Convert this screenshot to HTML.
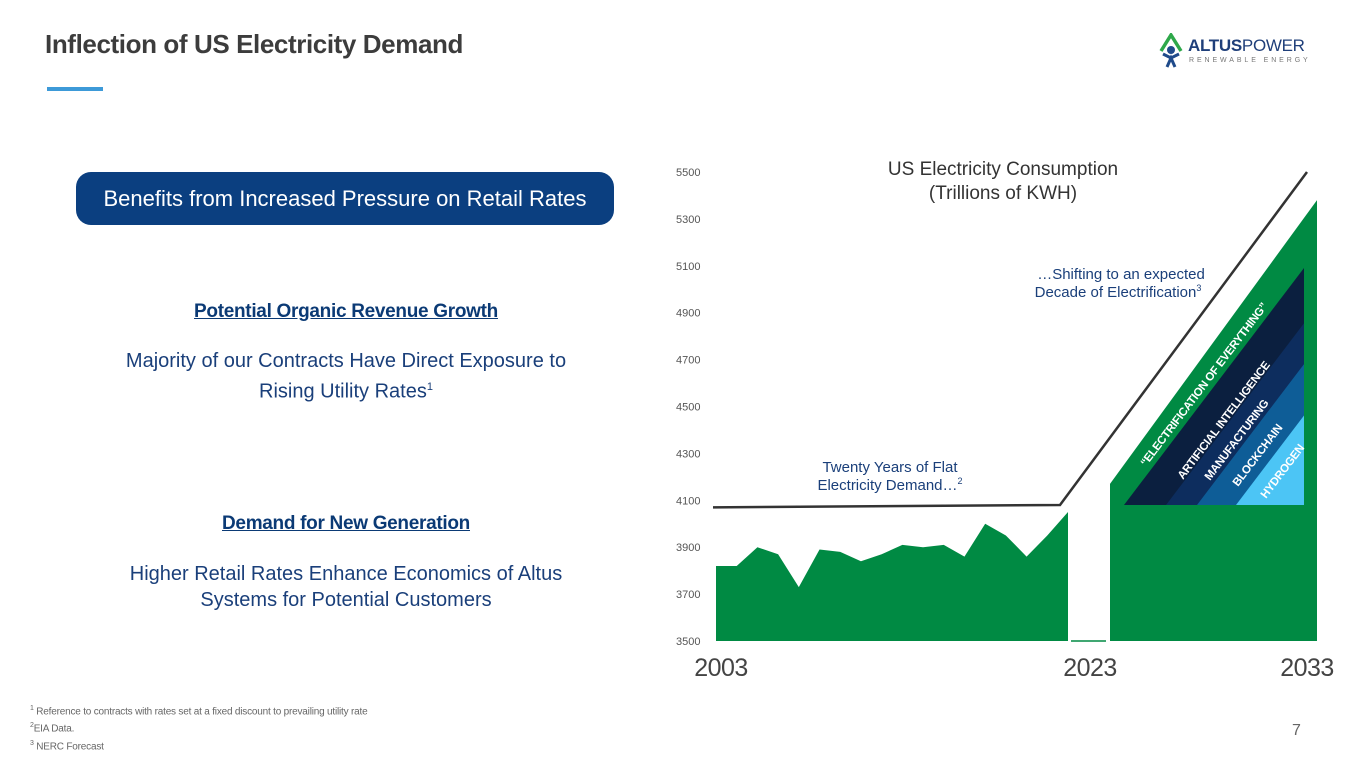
<!DOCTYPE html>
<html><head><meta charset="utf-8"><style>
body{margin:0;width:1365px;height:768px;overflow:hidden;background:#fff;font-family:"Liberation Sans",sans-serif;position:relative}
.abs{position:absolute}
.c{text-align:center}
</style></head><body>
<div class="abs" style="left:45px;top:29px;font-size:26px;font-weight:bold;color:#3c3c3c;letter-spacing:-0.4px">Inflection of US Electricity Demand</div>
<div class="abs" style="left:47px;top:87px;width:56px;height:4px;background:#3d9ad8"></div>
<div class="abs" style="left:1158px;top:33px;width:160px;height:36px">
 <svg width="30" height="36" style="position:absolute;left:0;top:0"><path d="M3 18 L13 2 L23 18" stroke="#2ea84a" stroke-width="3.5" fill="none"/><circle cx="13" cy="17" r="4" fill="#1f4a8a"/><path d="M5 21 L13 25 L21 21 M9 34 L13 25 L17 34" stroke="#1f4a8a" stroke-width="3" fill="none"/></svg>
 <div class="abs" style="left:30px;top:3px;font-size:17px;color:#1f3f7a;letter-spacing:-0.3px;white-space:nowrap"><b>ALTUS</b>POWER</div>
 <div class="abs" style="left:31px;top:24px;font-size:7px;color:#777;letter-spacing:2.9px;white-space:nowrap">RENEWABLE ENERGY</div>
</div>
<div class="abs c" style="left:76px;top:172px;width:538px;height:53px;border-radius:15px;background:#0b3f80;color:#fff;font-size:22px;line-height:53px;white-space:nowrap">Benefits from Increased Pressure on Retail Rates</div>
<div class="abs c" style="left:46px;top:301px;width:600px;font-size:19px;font-weight:bold;color:#0b3a75;text-decoration:underline;letter-spacing:-0.3px">Potential Organic Revenue Growth</div>
<div class="abs c" style="left:46px;top:348px;width:600px;font-size:20px;line-height:26px;color:#1a3f7a">Majority of our Contracts Have Direct Exposure to<br>Rising Utility Rates<sup style="font-size:11px">1</sup></div>
<div class="abs c" style="left:46px;top:513px;width:600px;font-size:19px;font-weight:bold;color:#0b3a75;text-decoration:underline;letter-spacing:-0.3px">Demand for New Generation</div>
<div class="abs c" style="left:46px;top:561px;width:600px;font-size:20px;line-height:26px;color:#1a3f7a">Higher Retail Rates Enhance Economics of Altus<br>Systems for Potential Customers</div>
<div class="abs" style="left:30px;top:702px;font-size:10px;line-height:14px;color:#666;letter-spacing:-0.2px"><sup style="font-size:7px">1</sup> Reference to contracts with rates set at a fixed discount to prevailing utility rate<br><sup style="font-size:7px">2</sup>EIA Data.<br><sup style="font-size:7px">3</sup> NERC Forecast</div>
<div class="abs" style="left:1292px;top:722px;font-size:16px;color:#666">7</div>

<svg id="chart" class="abs" style="left:0;top:0" width="1365" height="768"></svg>
<script>
const yTicks=[3500,3700,3900,4100,4300,4500,4700,4900,5100,5300,5500];
const histValues=[3820,3820,3900,3870,3730,3890,3880,3840,3870,3910,3900,3910,3860,4000,3950,3860,3950,4050];
const trendValues=[4070,4080,5500];
const forecastStart=4170, forecastEnd=5380, layerBase=4080;
const xLabels=["2003","2023","2033"];
const layerLabels=["\u201cELECTRIFICATION OF EVERYTHING\u201d","ARTIFICIAL INTELLIGENCE","MANUFACTURING","BLOCKCHAIN","HYDROGEN"];
const NS="http://www.w3.org/2000/svg";
const svg=document.getElementById('chart');
const y=v=>641-(v-3500)*(641-172)/2000;
const hx=i=>716+i*(1068-716)/(histValues.length-1);
function mk(t,a,p){const e=document.createElementNS(NS,t);for(const k in a)e.setAttribute(k,a[k]);(p||svg).appendChild(e);return e;}
yTicks.forEach(v=>{const t=mk('text',{x:676,y:y(v)+4,'font-size':11,fill:'#555','font-family':'Liberation Sans, sans-serif'});


t.textContent=v;});
let d='M'+hx(0)+' '+y(3500);histValues.forEach((v,i)=>d+=' L'+hx(i)+' '+y(v));d+=' L'+hx(histValues.length-1)+' '+y(3500)+'Z';
const ha=mk('path',{d:d,fill:'#008a43'});


const gl=mk('line',{x1:1071,x2:1106,y1:y(3500),y2:y(3500),stroke:'#008a43','stroke-width':1.5});


const fa=mk('path',{d:`M1110 ${y(3500)} L1110 ${y(forecastStart)} L1317 ${y(forecastEnd)} L1317 ${y(3500)}Z`,fill:'#008a43'});


const tl=mk('polyline',{points:`713,${y(trendValues[0])} 1060,${y(trendValues[1])} 1307,${y(trendValues[2])}`,fill:'none',stroke:'#333','stroke-width':2.5});


const by=y(layerBase), ax=1304, ay=268, lx=1124, slope=(by-ay)/(ax-lx);
const bases=[1124,1166,1197,1236];const cols=['#0b1f3f','#0d2d5e','#0e5d97','#4cc5f5'];
bases.forEach((b,i)=>{const top=by-(ax-b)*slope;const p=mk('polygon',{points:`${b},${by} ${ax},${top} ${ax},${by}`,fill:cols[i]});

});
const lp=[[1146,467],[1183,480],[1210,481],[1238,487],[1266,499]];
const lfs=[11.5,11.5,11.5,11.5,11.5];
const ang=-Math.atan(slope)*180/Math.PI;
layerLabels.forEach((s,i)=>{const t=mk('text',{x:lp[i][0],y:lp[i][1],transform:`rotate(${ang} ${lp[i][0]} ${lp[i][1]})`,'font-size':lfs[i],'font-weight':'bold',fill:'#fff','font-family':'Liberation Sans, sans-serif','letter-spacing':'-0.3'});


t.textContent=s;});
const xl=[[721,676],[1090,676],[1307,676]];
xLabels.forEach((s,i)=>{const t=mk('text',{x:xl[i][0],y:xl[i][1],'text-anchor':'middle','font-size':25,fill:'#444','font-family':'Liberation Sans, sans-serif','letter-spacing':'-0.5'});


t.textContent=s;});
function txt(s,x,yy,fs,fill,name,sup){const t=mk('text',{x:x,y:yy,'text-anchor':'middle','font-size':fs,fill:fill,'font-family':'Liberation Sans, sans-serif'});


t.textContent=s;
if(sup){const ts=mk('tspan',{'font-size':fs*0.6,dy:-6},t);ts.textContent=sup;}
return t;}
txt('US Electricity Consumption',1003,175,19,'#333','chart-title');
txt('(Trillions of KWH)',1003,199,19,'#333','chart-subtitle');
txt('Twenty Years of Flat',890,472,15,'#1a3f7a','flat-annotation');
txt('Electricity Demand\u2026',890,490,15,'#1a3f7a','flat-annotation-2','2');
txt('\u2026Shifting to an expected',1121,279,15,'#1a3f7a','shift-annotation');
txt('Decade of Electrification',1118,297,15,'#1a3f7a','shift-annotation-2','3');
</script>
</body></html>
